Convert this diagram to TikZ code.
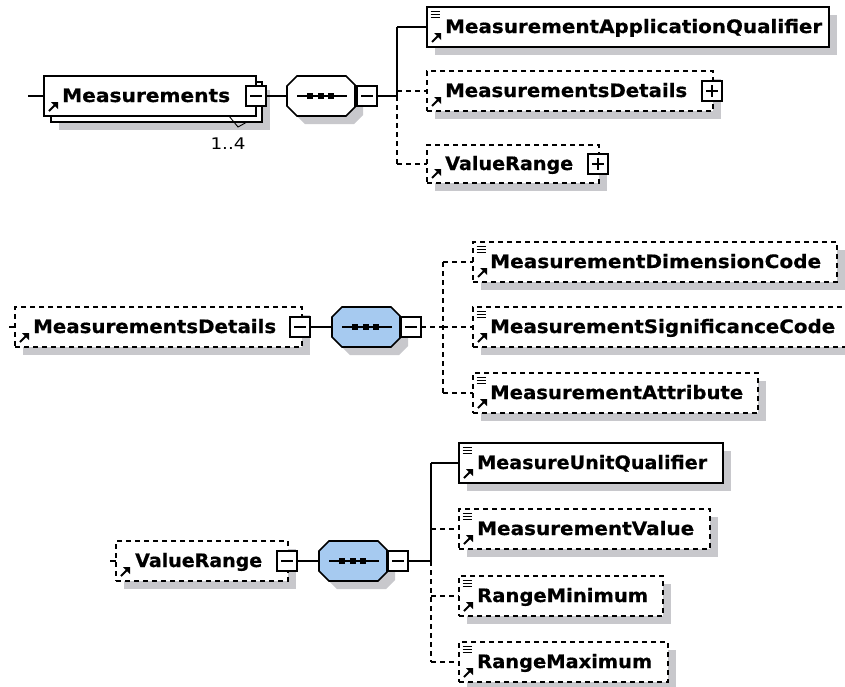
\documentclass[tikz,border=0pt]{standalone}
\usepackage{fontspec}
\setmainfont{DejaVu Sans}
\newfontfamily\lblfont[BoldFeatures={FakeBold=0.6}]{DejaVu Sans}
\usetikzlibrary{calc}
\definecolor{shgray}{RGB}{200,200,204}
\definecolor{seqblue}{RGB}{166,202,240}
\newcommand{\tx}[2]{\resizebox{#1pt}{\height}{\lblfont\fontsize{18.5}{20}\selectfont\bfseries #2}}
\newcommand{\arrowicon}[1]{%
  \draw[line width=1.9pt] ([shift={(5pt,5pt)}]#1.south west) -- ([shift={(11pt,11pt)}]#1.south west);
  \fill ([shift={(14pt,14pt)}]#1.south west) -- ([shift={(7pt,14pt)}]#1.south west) -- ([shift={(14pt,7pt)}]#1.south west) -- cycle;}
\newcommand{\listicon}[1]{%
  \foreach \dy in {4.5,7.5,10.5}{\draw[line width=1.4pt] ([shift={(3.5pt,-\dy pt)}]#1.north west) -- ([shift={(13pt,-\dy pt)}]#1.north west);}}
\newcommand{\minussign}[1]{\draw[line width=1.3pt] ([xshift=4pt]#1.west) -- ([xshift=-4pt]#1.east);}
\newcommand{\plussign}[1]{\minussign{#1}\draw[line width=1.3pt] ([yshift=-4pt]#1.north) -- ([yshift=4pt]#1.south);}
\tikzset{
  box/.style={draw, fill=white, line width=1.6pt, rectangle, inner sep=0pt, outer sep=0pt, anchor=north west},
  elem/.style={box, preaction={fill=shgray, transform canvas={xshift=8pt,yshift=-8pt}}},
  optelem/.style={elem, line width=1.4pt, dash pattern=on 5pt off 4pt},
  pmbox/.style={draw, fill=white, line width=1.4pt, rectangle, inner sep=0pt, outer sep=0pt, minimum width=20pt, minimum height=20pt},
  seqnode/.style={rectangle, inner sep=0pt, outer sep=0pt, minimum width=68pt, minimum height=40pt},
  octo/.style={insert path={([xshift=10pt]#1.north west) -- ([xshift=-9pt]#1.north east) -- ([yshift=-9pt]#1.north east) -- ([yshift=9pt]#1.south east) -- ([xshift=-9pt]#1.south east) -- ([xshift=10pt]#1.south west) -- ([yshift=10pt]#1.south west) -- ([yshift=-10pt]#1.north west) -- cycle}},
  lbl/.style={anchor=base west, inner sep=0pt},
  conn/.style={line width=1.6pt},
  dconn/.style={line width=1.4pt, dash pattern=on 5pt off 4pt},
}
\newcommand{\seqdraw}[2]{%
  \fill[shgray, transform canvas={xshift=8pt,yshift=-8pt}] [octo=#1];
  \filldraw[fill=#2, line width=1.6pt] [octo=#1];
  \draw[line width=1.5pt] ([xshift=10pt]#1.west) -- ([xshift=-8pt]#1.east);
  \foreach \dx in {-11,-0.5,10}{\fill ([shift={(\dx pt-3pt,3pt)}]#1.center) rectangle ([shift={(\dx pt+3pt,-3pt)}]#1.center);}}
\begin{document}
\begin{tikzpicture}[x=1pt,y=-1pt]
\useasboundingbox (0,0) rectangle (845,686);
\clip (0,0) rectangle (845,686);
\fill[white] (0,0) rectangle (845,686);

% ---------- top section ----------
\coordinate (in0) at (28,96);
\node[elem, minimum width=211pt, minimum height=40pt] (measb) at (51,82) {};
\node[box, minimum width=212pt, minimum height=40pt] (meas) at (44,76) {};
\draw[conn] (in0) -- (meas.west);
\node[lbl] (meast) at (62,102) {\tx{168}{Measurements}};
\arrowicon{meas}
\coordinate (n1) at (229,116);
\coordinate (n2) at (238,127);
\coordinate (n3) at (247,122);
\draw[line width=0.9pt] (n1) -- (n2) -- (n3);
\node[inner sep=0pt] (mult) at (228,144) {\resizebox{35pt}{\height}{\fontsize{16}{18}\selectfont 1..4}};
\node[pmbox] (measpm) at (256,96) {};
\minussign{measpm}
\node[seqnode] (seq1) at (321,96) {};
\draw[conn] (measpm.east) -- (seq1.west);
\seqdraw{seq1}{white}
\node[pmbox] (seq1pm) at (367,96) {};
\minussign{seq1pm}
\coordinate (j1t) at (397,27);
\coordinate (j1m) at (397,96);
\coordinate (j1d) at (397,91);
\coordinate (j1b) at (397,164);
\draw[conn] (seq1pm.east) -- (j1m);
\draw[conn] (j1t) -- (j1m);
\draw[dconn] (j1m) -- (j1b);

\node[elem, minimum width=402pt, minimum height=40pt] (maq) at (427,7) {};
\node[lbl] (maqt) at (445,33) {\tx{377}{MeasurementApplicationQualifier}};
\listicon{maq}\arrowicon{maq}
\draw[conn] (j1t) -- (maq.west);

\node[optelem, minimum width=286pt, minimum height=40pt] (md1) at (427,71) {};
\node[lbl] (md1t) at (445,97) {\tx{242}{MeasurementsDetails}};
\arrowicon{md1}
\node[pmbox] (md1pm) at (712,91) {};
\plussign{md1pm}
\draw[dconn] (j1d) -- (md1.west);

\node[optelem, minimum width=172pt, minimum height=38pt] (vr1) at (427,145) {};
\node[lbl] (vr1t) at (445,170) {\tx{128}{ValueRange}};
\arrowicon{vr1}
\node[pmbox] (vr1pm) at (598,164) {};
\plussign{vr1pm}
\draw[dconn] (j1b) -- (vr1.west);

% ---------- middle section ----------
\coordinate (in2) at (9,327);
\node[optelem, minimum width=287pt, minimum height=40pt] (md2) at (15,307) {};
\draw[line width=1.3pt] (in2) -- (md2.west);
\node[lbl] (md2t) at (33,333) {\tx{243}{MeasurementsDetails}};
\arrowicon{md2}
\node[pmbox] (md2pm) at (300,327) {};
\minussign{md2pm}
\node[seqnode] (seq2) at (366,327) {};
\draw[conn] (md2pm.east) -- (seq2.west);
\seqdraw{seq2}{seqblue}
\node[pmbox] (seq2pm) at (411,327) {};
\minussign{seq2pm}
\coordinate (j2t) at (443,262);
\coordinate (j2m) at (443,327);
\coordinate (j2b) at (443,393);
\draw[dconn] (seq2pm.east) -- (j2m);
\draw[dconn] (j2t) -- (j2b);

\node[optelem, minimum width=364pt, minimum height=40pt] (mdc) at (473,242) {};
\node[lbl] (mdct) at (490,268) {\tx{331}{MeasurementDimensionCode}};
\listicon{mdc}\arrowicon{mdc}
\draw[dconn] (j2t) -- (mdc.west);

\node[optelem, minimum width=385pt, minimum height=40pt] (msc) at (473,307) {};
\node[lbl] (msct) at (490,333) {\tx{345}{MeasurementSignificanceCode}};
\listicon{msc}\arrowicon{msc}
\draw[dconn] (j2m) -- (msc.west);

\node[optelem, minimum width=285pt, minimum height=40pt] (ma) at (473,373) {};
\node[lbl] (mat) at (490,399) {\tx{253}{MeasurementAttribute}};
\listicon{ma}\arrowicon{ma}
\draw[dconn] (j2b) -- (ma.west);

% ---------- bottom section ----------
\coordinate (in3) at (110,561);
\node[optelem, minimum width=172pt, minimum height=40pt] (vr2) at (116,541) {};
\draw[line width=1.3pt] (in3) -- (vr2.west);
\node[lbl] (vr2t) at (135,567) {\tx{127}{ValueRange}};
\arrowicon{vr2}
\node[pmbox] (vr2pm) at (287,561) {};
\minussign{vr2pm}
\node[seqnode] (seq3) at (353,561) {};
\draw[conn] (vr2pm.east) -- (seq3.west);
\seqdraw{seq3}{seqblue}
\node[pmbox] (seq3pm) at (398,561) {};
\minussign{seq3pm}
\coordinate (j3t) at (431,463);
\coordinate (j3m) at (431,561);
\coordinate (j3v) at (431,529);
\coordinate (j3n) at (431,596);
\coordinate (j3b) at (431,662);
\draw[conn] (seq3pm.east) -- (j3m);
\draw[conn] (j3t) -- (j3m);
\draw[dconn] (j3m) -- (j3b);

\node[elem, minimum width=264pt, minimum height=40pt] (muq) at (459,443) {};
\node[lbl] (muqt) at (477,469) {\tx{230}{MeasureUnitQualifier}};
\listicon{muq}\arrowicon{muq}
\draw[conn] (j3t) -- (muq.west);

\node[optelem, minimum width=251pt, minimum height=40pt] (mv) at (459,509) {};
\node[lbl] (mvt) at (477,535) {\tx{217}{MeasurementValue}};
\listicon{mv}\arrowicon{mv}
\draw[dconn] (j3v) -- (mv.west);

\node[optelem, minimum width=204pt, minimum height=40pt] (rmin) at (459,576) {};
\node[lbl] (rmint) at (477,602) {\tx{171}{RangeMinimum}};
\listicon{rmin}\arrowicon{rmin}
\draw[dconn] (j3n) -- (rmin.west);

\node[optelem, minimum width=209pt, minimum height=40pt] (rmax) at (459,642) {};
\node[lbl] (rmaxt) at (477,668) {\tx{175}{RangeMaximum}};
\listicon{rmax}\arrowicon{rmax}
\draw[dconn] (j3b) -- (rmax.west);
\end{tikzpicture}
\end{document}
